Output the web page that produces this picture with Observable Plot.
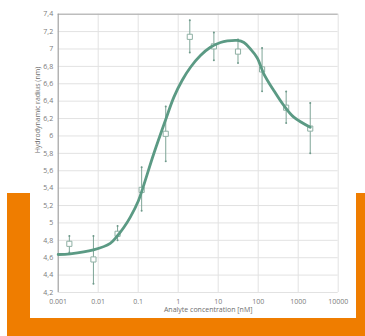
<!DOCTYPE html>
<html>
<head>
<meta charset="utf-8">
<script src="https://cdn.jsdelivr.net/npm/d3@7"></script>
<script src="https://cdn.jsdelivr.net/npm/@observablehq/plot@0.6"></script>
<style>
  html, body { margin: 0; padding: 0; background: #fff; }
  #wrap { position: relative; width: 365px; height: 336px; overflow: hidden; }
  #orange { position: absolute; left: 7px; top: 193px; width: 358px; height: 143px; background: #ef7d00; }
  #panel { position: absolute; left: 30px; top: 0; width: 326px; height: 318px; background: #fff; }
  #chart { position: absolute; left: 0; top: 0; }
</style>
</head>
<body>
<div id="wrap">
  <div id="orange"></div>
  <div id="panel"></div>
  <div id="chart"></div>
</div>
<script>
// Measured points (concentration nM, radius nm, error bar low/high)
const conc = [0.0019, 0.0076, 0.0305, 0.122, 0.488, 1.95, 7.8, 31.25, 125, 500, 2000];
const radius = [4.76, 4.58, 4.875, 5.38, 6.025, 7.14, 7.03, 6.97, 6.765, 6.325, 6.085];
const errLow = [4.66, 4.30, 4.80, 5.14, 5.71, 6.96, 6.87, 6.84, 6.515, 6.15, 5.80];
const errHigh = [4.85, 4.85, 4.965, 5.64, 6.34, 7.33, 7.19, 7.11, 7.01, 6.51, 6.38];

// Fitted curve
const fitConc = [0.001, 0.002, 0.0076, 0.02, 0.03, 0.044, 0.064, 0.1, 0.126, 0.245, 0.48, 0.78, 1.26, 2.03, 3.6, 6.4, 11.4, 17, 30, 44, 64, 94, 138, 245, 437, 776, 2000];
const fitRadius = [4.637, 4.645, 4.69, 4.765, 4.85, 4.95, 5.07, 5.25, 5.38, 5.795, 6.18, 6.446, 6.64, 6.79, 6.925, 7.02, 7.075, 7.092, 7.098, 7.075, 7.0, 6.9, 6.715, 6.523, 6.35, 6.216, 6.1];

const xTicks = [0.001, 0.01, 0.1, 1, 10, 100, 1000, 10000];
const yTicks = [4.2, 4.4, 4.6, 4.8, 5, 5.2, 5.4, 5.6, 5.8, 6, 6.2, 6.4, 6.6, 6.8, 7, 7.2, 7.4];
const xLabel = "Analyte concentration [nM]";
const yLabel = "Hydrodynamic radius (nm)";

const points = conc.map((c, i) => ({c, r: radius[i], lo: errLow[i], hi: errHigh[i]}));
const fit = fitConc.map((c, i) => ({c, r: fitRadius[i]}));
const caps = points.flatMap(d => [{c: d.c, r: d.lo}, {c: d.c, r: d.hi}]);

const chart = Plot.plot({
  width: 365,
  height: 336,
  marginLeft: 57.7,
  marginRight: 27.3,
  marginTop: 13.7,
  marginBottom: 44,
  style: {background: "transparent", fontFamily: "'Open Sans', sans-serif", fontSize: "7px", color: "#7a7a7a"},
  x: {type: "log", domain: [0.001, 10000]},
  y: {domain: [4.2, 7.4]},
  marks: [
    Plot.gridX(xTicks, {stroke: "#e2e2e2", strokeOpacity: 1}),
    Plot.gridY(yTicks, {stroke: "#e2e2e2", strokeOpacity: 1}),
    Plot.ruleY([7.4], {stroke: "#a8a8a8", strokeWidth: 1}),
    Plot.ruleX([0.001], {stroke: "#9a9a9a", strokeWidth: 1}),
    Plot.axisX(xTicks, {tickSize: 0, tickPadding: 6.5, tickFormat: d => String(d), label: null, fill: "#7a7a7a"}),
    Plot.axisY(yTicks, {tickSize: 0, tickPadding: 5, tickFormat: d => String(d).replace(".", ","), label: null, fill: "#7a7a7a"}),
    Plot.text([xLabel], {frameAnchor: "bottom", text: d => d, dy: 19.5, dx: 10, fill: "#6e6e6e", fontSize: 7}),
    Plot.text([yLabel], {frameAnchor: "left", text: d => d, rotate: -90, dx: -20.7, fill: "#6e6e6e", fontSize: 7}),
    Plot.ruleX(points, {x: "c", y1: "lo", y2: "hi", stroke: "#7ea597", strokeWidth: 1}),
    Plot.dot(caps, {x: "c", y: "r", r: 1, fill: "#6f9a8b", stroke: null}),
    Plot.dot(points, {x: "c", y: "r", symbol: "square", r: 2.9, fill: "white", stroke: "#8fb0a4", strokeWidth: 1}),
    Plot.line(fit, {x: "c", y: "r", curve: "catmull-rom", stroke: "#5b9a84", strokeWidth: 2.8})
  ]
});
document.getElementById("chart").appendChild(chart);
</script>
</body>
</html>
